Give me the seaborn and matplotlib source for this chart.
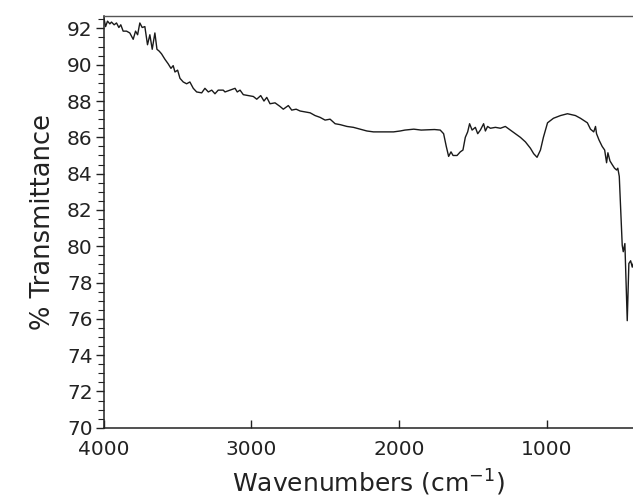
import matplotlib
matplotlib.use("Agg")
import matplotlib.pyplot as plt
import seaborn as sns
import pandas as pd
from matplotlib.ticker import MultipleLocator

wavenumber = [4000, 3988, 3975, 3959, 3948, 3930, 3914, 3898, 3885, 3869, 3846, 3824, 3801, 3785, 3771,
              3756, 3740, 3722, 3704, 3688, 3672, 3654, 3640, 3625, 3609, 3586, 3564, 3545, 3530, 3518,
              3500, 3484, 3462, 3439, 3417, 3394, 3371, 3337, 3315, 3292, 3269, 3247, 3225, 3191, 3179,
              3145, 3111, 3096, 3077, 3055, 3021, 2987, 2964, 2937, 2915, 2896, 2874, 2840, 2806, 2784,
              2750, 2727, 2697, 2670, 2636, 2602, 2569, 2535, 2501, 2467, 2433, 2399, 2353, 2309, 2263,
              2218, 2173, 2128, 2082, 2037, 1992, 1960, 1900, 1850, 1800, 1760, 1721, 1698, 1680, 1664,
              1648, 1634, 1607, 1585, 1567, 1551, 1535, 1522, 1505, 1483, 1467, 1449, 1427, 1415, 1400,
              1381, 1347, 1313, 1280, 1246, 1212, 1178, 1144, 1110, 1088, 1065, 1042, 1022, 994, 954,
              906, 859, 805, 771, 724, 703, 681, 669, 662, 645, 624, 607, 594, 585, 571,
              556, 540, 526, 518, 508, 488, 481, 470, 454, 443, 431, 420, 411]

transmittance = [92.6, 92.1, 92.4, 92.25, 92.35, 92.2, 92.3, 92.05, 92.2, 91.85, 91.85, 91.75, 91.4, 91.85, 91.65,
                 92.3, 92.05, 92.1, 91.1, 91.65, 90.85, 91.75, 90.85, 90.75, 90.6, 90.3, 90.05, 89.8, 89.95, 89.6,
                 89.7, 89.25, 89.05, 88.95, 89.05, 88.7, 88.5, 88.45, 88.7, 88.5, 88.6, 88.4, 88.6, 88.6, 88.5,
                 88.6, 88.7, 88.5, 88.6, 88.35, 88.3, 88.25, 88.1, 88.3, 88.0, 88.2, 87.85, 87.9, 87.7, 87.55,
                 87.75, 87.5, 87.55, 87.45, 87.4, 87.35, 87.2, 87.1, 86.95, 87.0, 86.75, 86.7, 86.6, 86.55, 86.45,
                 86.35, 86.3, 86.3, 86.3, 86.3, 86.35, 86.4, 86.45, 86.4, 86.42, 86.43, 86.4, 86.2, 85.5, 84.95,
                 85.2, 85.0, 85.0, 85.2, 85.3, 86.0, 86.3, 86.75, 86.4, 86.55, 86.2, 86.4, 86.75, 86.35, 86.6,
                 86.5, 86.55, 86.5, 86.6, 86.4, 86.2, 86.0, 85.75, 85.4, 85.1, 84.9, 85.3, 86.0, 86.8, 87.05,
                 87.2, 87.3, 87.2, 87.05, 86.8, 86.45, 86.3, 86.6, 86.2, 85.85, 85.5, 85.3, 84.6, 85.15, 84.7,
                 84.5, 84.3, 84.2, 84.3, 83.85, 80.05, 79.7, 80.15, 75.9, 79.05, 79.2, 78.85, 79.1]

y_ticks = [70, 72, 74, 76, 78, 80, 82, 84, 86, 88, 90, 92]
x_ticks = [4000, 3000, 2000, 1000]

df = pd.DataFrame({"wavenumber": wavenumber, "transmittance": transmittance})

sns.set_style("ticks")
plt.rcParams["font.family"] = ["DejaVu Sans"]

fig = plt.figure(figsize=(6.33, 4.98), dpi=100)
ax = fig.add_axes([0.164, 0.141, 0.836, 0.826])

sns.lineplot(data=df, x="wavenumber", y="transmittance", sort=False, estimator=None,
             color="#1a1a1a", linewidth=1.0, ax=ax)

ax.set_xlim(4000, 415)
ax.set_ylim(70, 92.66)
ax.set_xticks(x_ticks)
ax.set_yticks(y_ticks)
ax.set_xticklabels([str(v) for v in x_ticks], fontsize=14.5, color="#222222")
ax.set_yticklabels([str(v) for v in y_ticks], fontsize=14.5, color="#222222")
ax.yaxis.set_minor_locator(MultipleLocator(0.5))

ax.tick_params(axis="x", which="major", direction="in", length=6, width=1, pad=9, color="#222222")
ax.tick_params(axis="y", which="major", direction="out", length=6, width=1, pad=2, color="#222222")
ax.tick_params(axis="y", which="minor", direction="out", length=4, width=0.8, color="#222222")

for side in ["left", "bottom"]:
    ax.spines[side].set_color("#222222")
    ax.spines[side].set_linewidth(1.1)
ax.spines["top"].set_visible(True)
ax.spines["top"].set_color("#555555")
ax.spines["top"].set_linewidth(1.0)
ax.spines["right"].set_visible(False)

ax.set_xlabel("Wavenumbers (cm$^{-1}$)", fontsize=18, color="#222222", labelpad=6)
ax.set_ylabel("% Transmittance", fontsize=18.5, color="#222222", labelpad=8)

fig.savefig("out.png", dpi=100)
